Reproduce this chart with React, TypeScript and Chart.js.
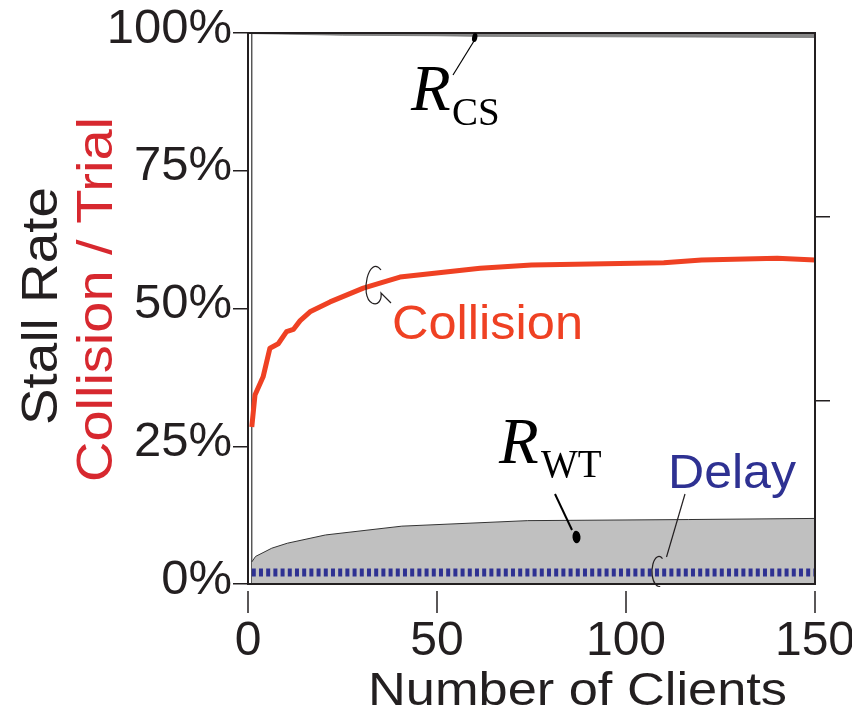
import React, { useEffect, useRef } from 'react';
import { Chart, registerables } from 'chart.js';
Chart.register(...registerables);

const xTicks = [0, 50, 100, 150];
const yTicks = [0, 25, 50, 75, 100];
const yTickLabels = ['0%', '25%', '50%', '75%', '100%'];
const rightTicks = [100 / 3, 200 / 3];

const collisionX = [1, 1.85, 4, 5.8, 8, 10.2, 12, 13.8, 16.4, 21.7, 30.5, 34.9, 40.2, 61.4, 75, 110, 120, 140, 150];
const collisionY = [28.5, 34.3, 37.6, 42.8, 43.6, 45.8, 46.2, 47.8, 49.4, 51.2, 53.7, 54.6, 55.7, 57.3, 57.9, 58.3, 58.8, 59.1, 58.8];

const rwtX = [1, 2, 6.3, 10.4, 20.5, 40.7, 74, 116.6, 150];
const rwtY = [4.0, 5.0, 6.5, 7.4, 8.9, 10.5, 11.5, 11.7, 11.9];

const delayX = [1, 150];
const delayY = [2.08, 2.08];

const rcsX = [1, 25, 50, 60, 100, 150];
const rcsY = [99.9, 99.6, 99.5, 99.4, 99.3, 99.2];

const edgeX = [1, 1];
const edgeY = [0, 100];

const INK = '#231f20';
const SANS = "'Liberation Sans', Arial, sans-serif";
const SERIF = "'Liberation Serif', 'Times New Roman', serif";

const pts = (xs: number[], ys: number[]) => xs.map((x, i) => ({ x, y: ys[i] }));

function stretchText(ctx: CanvasRenderingContext2D, text: string, x: number, y: number, font: string, color: string, width?: number) {
  ctx.save();
  ctx.font = font;
  ctx.fillStyle = color;
  ctx.textAlign = 'left';
  ctx.textBaseline = 'alphabetic';
  const w = ctx.measureText(text).width;
  const sx = width ? width / w : 1;
  ctx.translate(x, y);
  ctx.scale(sx, 1);
  ctx.fillText(text, 0, 0);
  ctx.restore();
}

const decor = {
  id: 'decor',
  afterDatasetsDraw(chart: any) {
    const ctx: CanvasRenderingContext2D = chart.ctx;
    const { left, right, top, bottom } = chart.chartArea;
    const xs = chart.scales.x;
    ctx.save();
    // frame
    ctx.strokeStyle = INK;
    ctx.lineWidth = 2;
    ctx.strokeRect(left, top, right - left, bottom - top);
    // offset x ticks
    ctx.lineWidth = 1.5;
    xTicks.forEach((v) => {
      const px = xs.getPixelForValue(v);
      ctx.beginPath();
      ctx.moveTo(px, bottom + 7);
      ctx.lineTo(px, bottom + 29);
      ctx.stroke();
    });

    // R_CS annotation
    ctx.fillStyle = '#000';
    ctx.strokeStyle = '#000';
    ctx.lineWidth = 1.2;
    ctx.beginPath();
    ctx.moveTo(453, 75);
    ctx.lineTo(474, 41);
    ctx.stroke();
    ctx.beginPath();
    ctx.ellipse(474.7, 37.5, 2.6, 4.5, 0.2, 0, Math.PI * 2);
    ctx.fill();
    stretchText(ctx, 'R', 411, 110, `italic 65px ${SERIF}`, '#000');
    stretchText(ctx, 'CS', 452, 125, `39px ${SERIF}`, '#000');

    // R_WT annotation
    ctx.lineWidth = 2;
    ctx.beginPath();
    ctx.moveTo(555, 494);
    ctx.lineTo(572, 530);
    ctx.stroke();
    ctx.beginPath();
    ctx.ellipse(576.5, 537, 4, 6.2, -0.1, 0, Math.PI * 2);
    ctx.fill();
    stretchText(ctx, 'R', 499, 463, `italic 65px ${SERIF}`, '#000');
    stretchText(ctx, 'WT', 541, 477, `39px ${SERIF}`, '#000');

    // Delay annotation
    ctx.strokeStyle = '#231f20';
    ctx.lineWidth = 1.2;
    ctx.beginPath();
    ctx.moveTo(685, 494);
    ctx.lineTo(666.5, 557);
    ctx.stroke();
    ctx.beginPath();
    ctx.ellipse(659, 571.5, 7, 15, 0, (-60 * Math.PI) / 180, (80 * Math.PI) / 180, true);
    ctx.stroke();
    stretchText(ctx, 'Delay', 668, 488, `48px ${SANS}`, '#2e3192', 128);

    // Collision annotation
    ctx.beginPath();
    ctx.moveTo(381, 270);
    ctx.bezierCurveTo(369, 254, 359, 296, 372, 303);
    ctx.bezierCurveTo(378, 306, 382, 300, 381, 293);
    ctx.lineTo(391, 303);
    ctx.stroke();
    stretchText(ctx, 'Collision', 392, 339, `48px ${SANS}`, '#ef4123', 191);

    // axis titles
    stretchText(ctx, 'Number of Clients', 368, 705, `47px ${SANS}`, INK, 419);
    ctx.save();
    ctx.translate(57, 425);
    ctx.rotate(-Math.PI / 2);
    stretchText(ctx, 'Stall Rate', 0, 0, `50px ${SANS}`, INK, 238);
    ctx.restore();
    ctx.save();
    ctx.translate(112, 482);
    ctx.rotate(-Math.PI / 2);
    stretchText(ctx, 'Collision / Trial', 0, 0, `50px ${SANS}`, '#d7282f', 365);
    ctx.restore();
    ctx.restore();
  },
};

export default function App() {
  const ref = useRef<HTMLCanvasElement | null>(null);
  useEffect(() => {
    if (!ref.current) return;
    Chart.defaults.font.family = SANS;
    const chart = new Chart(ref.current, {
      type: 'line',
      data: {
        datasets: [
          {
            label: 'Collision',
            data: pts(collisionX, collisionY),
            borderColor: '#ef4123',
            borderWidth: 5,
            pointRadius: 0,
            fill: false,
            borderJoinStyle: 'round',
          },
          {
            label: 'Delay',
            data: pts(delayX, delayY),
            borderColor: '#2e3192',
            borderWidth: 8,
            borderDash: [4, 3.2],
            borderCapStyle: 'butt',
            pointRadius: 0,
            fill: false,
          },
          {
            label: 'R_WT',
            data: pts(rwtX, rwtY),
            borderColor: '#333333',
            borderWidth: 1,
            backgroundColor: '#c0c0c0',
            pointRadius: 0,
            fill: 'origin',
          },
          {
            label: 'R_CS',
            data: pts(rcsX, rcsY),
            borderColor: '#6e6e6e',
            borderWidth: 0.8,
            backgroundColor: '#878787',
            pointRadius: 0,
            fill: 'end',
          },
          {
            label: 'edge',
            data: pts(edgeX, edgeY),
            borderColor: '#333333',
            borderWidth: 1.2,
            pointRadius: 0,
            fill: false,
          },
        ],
      },
      options: {
        animation: false,
        responsive: false,
        devicePixelRatio: 1,
        layout: { padding: { top: 33, left: 0, right: 0, bottom: 0 } },
        plugins: { legend: { display: false }, tooltip: { enabled: false }, title: { display: false } },
        scales: {
          x: {
            type: 'linear',
            min: 0,
            max: 150,
            afterBuildTicks: (s: any) => { s.ticks = xTicks.map((v) => ({ value: v })); },
            afterFit: (s: any) => { s.height = 713 - 584; s.paddingLeft = 0; s.paddingRight = 0; },
            border: { display: false },
            grid: { display: true, drawOnChartArea: false, drawTicks: true, tickLength: 27, color: 'rgba(0,0,0,0)' },
            ticks: { color: INK, font: { size: 48 }, padding: 2, maxRotation: 0, autoSkip: false, callback: (v: any) => String(v) },
          },
          y: {
            type: 'linear',
            position: 'left',
            min: 0,
            max: 100,
            afterBuildTicks: (s: any) => { s.ticks = yTicks.map((v) => ({ value: v })); },
            afterFit: (s: any) => { s.width = 248; s.paddingTop = 0; s.paddingBottom = 0; },
            border: { display: false },
            grid: { display: true, drawOnChartArea: false, drawTicks: true, tickLength: 15, color: INK, lineWidth: 1.5 },
            ticks: {
              color: INK,
              font: { size: 49 },
              padding: 1,
              labelOffset: -4,
              autoSkip: false,
              callback: (v: any) => yTickLabels[yTicks.indexOf(Number(v))] ?? '',
            },
          },
          y2: {
            type: 'linear',
            position: 'right',
            min: 0,
            max: 100,
            afterBuildTicks: (s: any) => { s.ticks = rightTicks.map((v) => ({ value: v })); },
            afterFit: (s: any) => { s.width = 852 - 815; },
            border: { display: false },
            grid: { display: true, drawOnChartArea: false, drawTicks: true, tickLength: 15, color: INK, lineWidth: 1.5 },
            ticks: { display: false },
          },
        },
      },
      plugins: [decor],
    } as any);
    return () => chart.destroy();
  }, []);
  return (
    <div style={{ position: 'fixed', left: 0, top: 0, width: 852, height: 713, background: '#fff' }}>
      <canvas ref={ref} width={852} height={713} style={{ display: 'block', width: 852, height: 713 }} />
    </div>
  );
}
